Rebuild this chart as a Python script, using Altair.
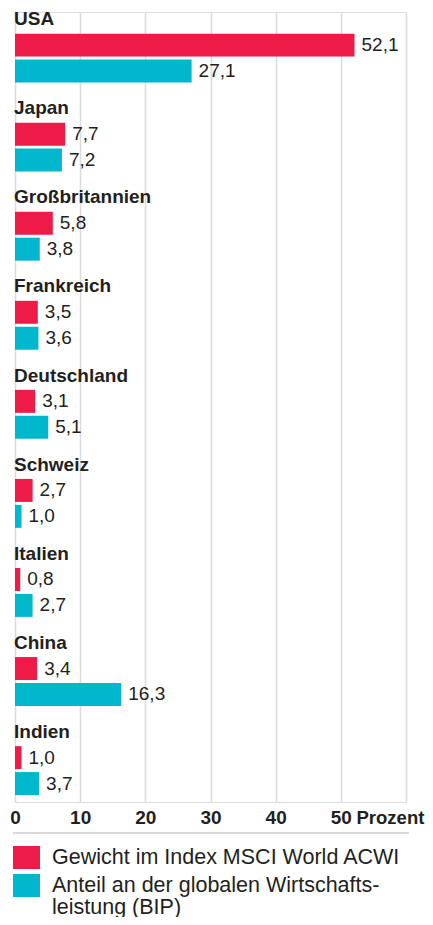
import altair as alt
import pandas as pd

countries = ["USA", "Japan", "Großbritannien", "Frankreich", "Deutschland",
             "Schweiz", "Italien", "China", "Indien"]
msci = [52.1, 7.7, 5.8, 3.5, 3.1, 2.7, 0.8, 3.4, 1.0]
bip = [27.1, 7.2, 3.8, 3.6, 5.1, 1.0, 2.7, 16.3, 3.7]
series = ["Gewicht im Index MSCI World ACWI",
          "Anteil an der globalen Wirtschaftsleistung (BIP)"]
colors = ["#ee1a47", "#00b7cd"]
x_ticks = [0, 10, 20, 30, 40, 50, 60]

rows = []
for c, a, b in zip(countries, msci, bip):
    rows.append({"land": c, "serie": series[0], "wert": a})
    rows.append({"land": c, "serie": series[1], "wert": b})
df = pd.DataFrame(rows)
labels_df = pd.DataFrame({"land": countries})
rule_df = pd.DataFrame({"k": [1]})

FONT = "Liberation Sans"
TXT = "#231f20"
W, H = 391, 790

y_enc = alt.Y("land:N", sort=countries, axis=None,
              scale=alt.Scale(paddingInner=0.13, paddingOuter=0))
yoff = alt.YOffset("serie:N", sort=series,
                   scale=alt.Scale(domain=series, paddingInner=0.115,
                                   paddingOuter=0.5516, align=0.756))
x_enc = alt.X(
    "wert:Q",
    scale=alt.Scale(domain=[0, 60], nice=False),
    axis=alt.Axis(
        values=x_ticks,
        labelExpr="datum.value == 60 ? '' : datum.label",
        labelFlush=False,
        ticks=False, tickSize=0, domain=False,
        grid=True, gridColor="#dcdcdc", gridWidth=1.6,
        labelFont=FONT, labelFontSize=19, labelFontWeight="bold",
        labelColor=TXT, labelPadding=6,
        title="Prozent", titleFont=FONT, titleFontSize=18.5,
        titleFontWeight="bold", titleColor=TXT, titleAlign="left",
        titleBaseline="alphabetic", titleAngle=0, titleX=341, titleY=21,
    ),
)

legend = alt.Legend(
    orient="none", legendX=-2, legendY=832, title=None, direction="vertical",
    padding=0, symbolType="M-1,-0.85H1V0.85H-1Z", symbolSize=729,
    symbolStrokeWidth=0, symbolOpacity=1,
    labelFont=FONT, labelFontSize=21.5, labelColor=TXT, labelOffset=12,
    rowPadding=3, labelLimit=420,
    labelExpr=("datum.label == 'Anteil an der globalen Wirtschaftsleistung (BIP)'"
               " ? ['Anteil an der globalen Wirtschafts-', 'leistung (BIP)']"
               " : datum.label"),
)

bars = alt.Chart(df).mark_bar().encode(
    x=x_enc, y=y_enc, yOffset=yoff,
    color=alt.Color("serie:N", sort=series,
                    scale=alt.Scale(domain=series, range=colors),
                    legend=legend),
)

values = alt.Chart(df).transform_calculate(
    txt="replace(format(datum.wert, '.1f'), '.', ',')"
).mark_text(align="left", baseline="middle", dx=7, font=FONT, fontSize=19,
            color=TXT).encode(
    x="wert:Q", y=y_enc, yOffset=yoff, text="txt:N")

names = alt.Chart(labels_df).mark_text(
    align="left", baseline="alphabetic", dy=-25.5, font=FONT, fontSize=19,
    fontWeight="bold", color=TXT).encode(
    x=alt.value(-1), y=y_enc, text="land:N")

rule = alt.Chart(rule_df).mark_rule(color="#dadada", strokeWidth=2).encode(
    x=alt.value(-2), x2=alt.value(394), y=alt.value(H + 31))

chart = alt.layer(bars, values, names, rule).properties(
    width=W, height=H,
    autosize=alt.AutoSizeParams(type="none"),
    padding={"left": 7, "top": 4, "right": 19, "bottom": 115},
).configure_view(stroke=None).configure(
    style={"guide-label": {"lineHeight": 22}}
)

chart.save("out.html", embed_options={"renderer": "svg", "actions": False})
